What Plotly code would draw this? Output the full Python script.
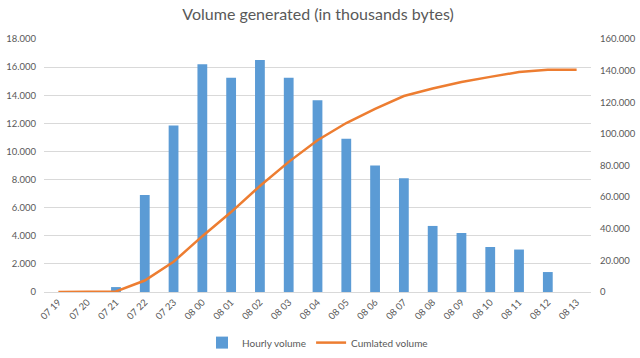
import plotly.graph_objects as go

categories = ["07 19", "07 20", "07 21", "07 22", "07 23", "08 00", "08 01", "08 02",
              "08 03", "08 04", "08 05", "08 06", "08 07", "08 08", "08 09", "08 10",
              "08 11", "08 12", "08 13"]
hourly_volume = [0, 0, 350, 6900, 11850, 16200, 15250, 16500, 15250, 13650, 10900,
                 9000, 8100, 4700, 4200, 3200, 3020, 1420, 0]
cumulated_volume = [0, 0, 350, 7250, 19100, 35300, 50550, 67050, 82300, 95950, 106850,
                    115850, 123950, 128650, 132850, 136050, 139070, 140490, 140490]

FONT = "Lato, 'Open Sans', sans-serif"
TXT = "#595959"

fig = go.Figure()
fig.add_trace(go.Bar(x=categories, y=hourly_volume, name="Hourly volume",
                     marker=dict(color="#5B9BD5", line=dict(width=0)), yaxis="y"))
fig.add_trace(go.Scatter(x=categories, y=cumulated_volume, name="Cumlated volume",
                         mode="lines", line=dict(color="#ED7D31", width=2.5), yaxis="y2"))

fig.update_layout(
    width=640, height=358,
    margin=dict(l=44, r=49, t=39, b=66, autoexpand=False),
    paper_bgcolor="white", plot_bgcolor="white",
    separators=",.",
    title=dict(text="Volume generated (in thousands bytes)", x=0.497, xanchor="center",
               y=0.96, yanchor="middle", font=dict(family=FONT, size=16, color=TXT)),
    font=dict(family=FONT, size=10, color=TXT),
    bargap=0.66,
    showlegend=True,
    legend=dict(orientation="h", x=0.5, xanchor="center", y=-0.2, yanchor="middle",
                font=dict(family=FONT, size=10, color=TXT), traceorder="normal"),
    xaxis=dict(type="category", tickangle=-45, showgrid=False, showline=True,
               linecolor="#D9D9D9", linewidth=1, ticks="", automargin=False,
               tickfont=dict(size=9.5, color=TXT)),
    yaxis=dict(range=[0, 18000], dtick=2000, tickformat=",d", showgrid=True,
               gridcolor="#D9D9D9", gridwidth=1, zeroline=False, showline=False,
               ticks="outside", ticklen=5, tickcolor="white", automargin=False,
               tickfont=dict(size=9.5, color=TXT)),
    yaxis2=dict(range=[0, 160000], dtick=20000, tickformat=",d", overlaying="y",
                side="right", showgrid=False, zeroline=False, showline=False,
                ticks="outside", ticklen=6, tickcolor="white", automargin=False,
                tickfont=dict(size=9.5, color=TXT)),
)

fig.write_html("out.html", config={"displayModeBar": False},
               post_script="document.body.style.margin='0';")
